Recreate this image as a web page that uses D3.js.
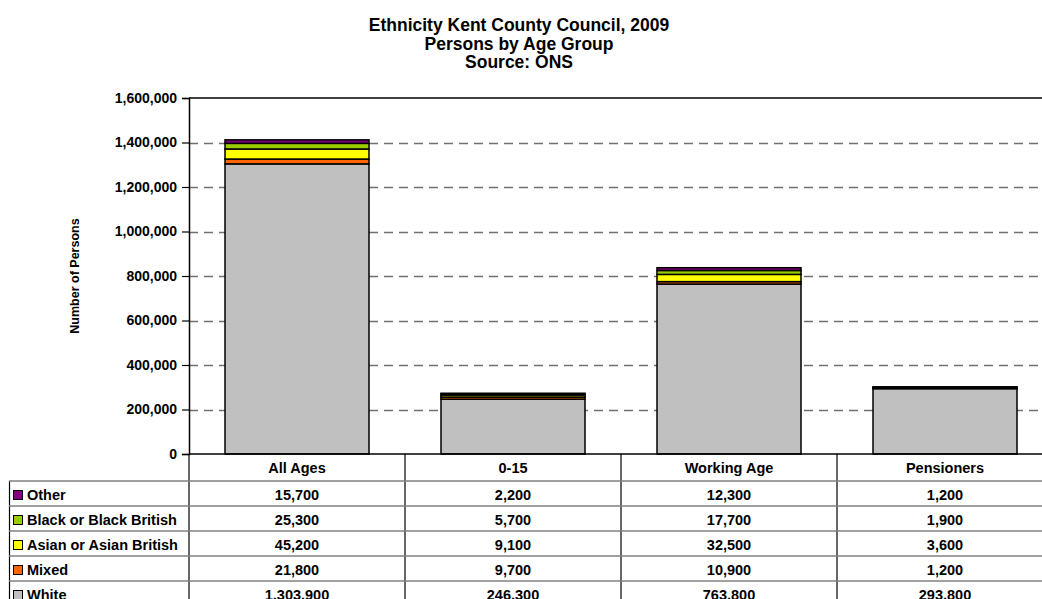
<!DOCTYPE html>
<html>
<head>
<meta charset="utf-8">
<script src="https://cdn.jsdelivr.net/npm/d3@7"></script>
<style>
  html, body { margin: 0; padding: 0; background: #fff; }
  svg { display: block; font-family: "Liberation Sans", Arial, sans-serif; font-weight: bold; }
</style>
</head>
<body>
<svg id="chart" width="1042" height="599"></svg>
<script>
// Stacked ethnicity bars with an Excel-style data table underneath.

const AGE_GROUPS = ["All Ages", "0-15", "Working Age", "Pensioners"];
// stacking order, bottom → top
const ETHNICITIES = ["White", "Mixed", "Asian or Asian British", "Black or Black British", "Other"];
const WHITE = [1303900, 246300, 763800, 293800];
const MIXED = [21800, 9700, 10900, 1200];
const ASIAN = [45200, 9100, 32500, 3600];
const BLACK = [25300, 5700, 17700, 1900];
const OTHER = [15700, 2200, 12300, 1200];
const Y_TICKS = [0, 200000, 400000, 600000, 800000, 1000000, 1200000, 1400000, 1600000];

const COLORS = {
  "White": "#c0c0c0",
  "Mixed": "#ff6600",
  "Asian or Asian British": "#ffff00",
  "Black or Black British": "#99cc00",
  "Other": "#800080"
};

const seriesValues = {
  "White": WHITE,
  "Mixed": MIXED,
  "Asian or Asian British": ASIAN,
  "Black or Black British": BLACK,
  "Other": OTHER
};

const rows = AGE_GROUPS.map((g, i) => {
  const r = { group: g };
  ETHNICITIES.forEach(e => { r[e] = seriesValues[e][i]; });
  return r;
});

const svg = d3.select("#chart");
const plot = { left: 189, top: 98, bottom: 454, bandW: 216 };

const x = d3.scaleBand()
  .domain(AGE_GROUPS)
  .range([plot.left, plot.left + plot.bandW * AGE_GROUPS.length])
  .paddingInner(1 / 3).paddingOuter(1 / 6);

const y = d3.scaleLinear().domain([0, 1600000]).range([plot.bottom, plot.top]);

// title
const title = ["Ethnicity Kent County Council, 2009", "Persons by Age Group", "Source: ONS"];
svg.append("g").selectAll("text")
  .data(title)
  .join("text")
    .attr("x", 519)
    .attr("y", (d, i) => 31 + i * 18.7)
    .attr("text-anchor", "middle")
    .attr("font-size", 17.5)
    .attr("fill", "#000")
    .text(d => d);

// gridlines
svg.append("g").selectAll("line")
  .data(Y_TICKS.filter(t => t > 0 && t < 1600000))
  .join("line")
    .attr("x1", plot.left).attr("x2", 1042)
    .attr("y1", d => Math.round(y(d)) + 0.5).attr("y2", d => Math.round(y(d)) + 0.5)
    .attr("stroke", "#707070")
    .attr("stroke-width", 1.5)
    .attr("stroke-dasharray", "9,6");

// top border of plot area
svg.append("line")
  .attr("x1", plot.left).attr("x2", 1042)
  .attr("y1", y(1600000)).attr("y2", y(1600000))
  .attr("stroke", "#000").attr("stroke-width", 1.5);

// bars
const stack = d3.stack().keys(ETHNICITIES)(rows);
svg.append("g").selectAll("g")
  .data(stack)
  .join("g")
    .attr("fill", d => COLORS[d.key])
  .selectAll("rect")
  .data(d => d)
  .join("rect")
    .attr("x", d => x(d.data.group))
    .attr("width", x.bandwidth())
    .attr("y", d => y(d[1]))
    .attr("height", d => y(d[0]) - y(d[1]))
    .attr("stroke", "#000")
    .attr("stroke-width", 1.5);

// y axis
const yAxis = svg.append("g")
  .attr("transform", `translate(${plot.left},0)`)
  .call(d3.axisLeft(y).tickValues(Y_TICKS).tickSize(7).tickPadding(5).tickFormat(d3.format(",")));
yAxis.select(".domain").attr("stroke", "#000").attr("stroke-width", 1.5);
yAxis.selectAll(".tick line").attr("stroke", "#000").attr("stroke-width", 1.2);
yAxis.selectAll(".tick text")
  .attr("font-size", 14).attr("font-family", "Liberation Sans, Arial, sans-serif")
  .attr("font-weight", "bold").attr("fill", "#000");

svg.append("text")
  .attr("transform", `translate(79,${(plot.top + plot.bottom) / 2}) rotate(-90)`)
  .attr("text-anchor", "middle")
  .attr("font-size", 12.5)
  .attr("fill", "#000")
  .text("Number of Persons");

// data table
const rowH = 25;
const headerBottom = 481;
const tableRows = ETHNICITIES.slice().reverse(); // Other at top
const table = svg.append("g");
const FS = 14.5;

// vertical lines
const colEdges = AGE_GROUPS.map((g, i) => plot.left + plot.bandW * i).concat([plot.left + plot.bandW * AGE_GROUPS.length]);
table.selectAll("line.v")
  .data(colEdges)
  .join("line")
    .attr("class", "v")
    .attr("x1", d => d).attr("x2", d => d)
    .attr("y1", plot.bottom).attr("y2", 610)
    .attr("stroke", "#000").attr("stroke-width", 1.2);
table.append("line")
  .attr("x1", 9.5).attr("x2", 9.5)
  .attr("y1", headerBottom).attr("y2", 610)
  .attr("stroke", "#000").attr("stroke-width", 1.2);

// horizontal lines
table.selectAll("line.h")
  .data(d3.range(tableRows.length + 1))
  .join("line")
    .attr("class", "h")
    .attr("x1", 9).attr("x2", 1042)
    .attr("y1", i => headerBottom + i * rowH).attr("y2", i => headerBottom + i * rowH)
    .attr("stroke", "#808080").attr("stroke-width", 1.5);
table.append("line")
  .attr("x1", plot.left).attr("x2", 1042)
  .attr("y1", plot.bottom).attr("y2", plot.bottom)
  .attr("stroke", "#000").attr("stroke-width", 1.5);

// header labels
table.selectAll("text.head")
  .data(AGE_GROUPS)
  .join("text")
    .attr("class", "head")
    .attr("x", d => x(d) + x.bandwidth() / 2)
    .attr("y", plot.bottom + 19)
    .attr("text-anchor", "middle")
    .attr("font-size", FS)
    .text(d => d);

// legend column
const legendRows = table.selectAll("g.lrow")
  .data(tableRows)
  .join("g")
    .attr("class", "lrow")
    .attr("transform", (d, i) => `translate(0,${headerBottom + i * rowH})`);
legendRows.append("rect")
  .attr("x", 13.5).attr("y", 9.5)
  .attr("width", 9).attr("height", 9)
  .attr("fill", d => COLORS[d])
  .attr("stroke", "#000").attr("stroke-width", 1);
legendRows.append("text")
  .attr("x", 27).attr("y", 19)
  .attr("font-size", FS)
  .text(d => d);

// values
const fmt = d3.format(",");
legendRows.selectAll("text.val")
  .data(d => AGE_GROUPS.map((g, i) => ({ group: g, value: seriesValues[d][i] })))
  .join("text")
    .attr("class", "val")
    .attr("x", d => x(d.group) + x.bandwidth() / 2)
    .attr("y", 19)
    .attr("text-anchor", "middle")
    .attr("font-size", FS)
    .text(d => fmt(d.value));
</script>
</body>
</html>
